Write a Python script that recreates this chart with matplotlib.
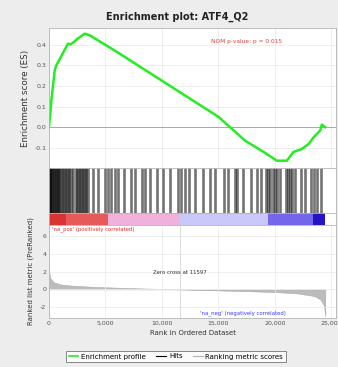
import numpy as np
import matplotlib
matplotlib.use("Agg")
from matplotlib import pyplot as plt

# Running enrichment score (rank, ES)
esRank = [0, 210, 505, 655, 1100, 1680, 1900, 2130, 2570, 3160, 3610,
          6000, 9000, 12000, 15000, 17350, 19000, 20160, 21050, 21630,
          22380, 23000, 23400, 24000, 24150, 24300, 24440]
esVal = [0.0, 0.13, 0.275, 0.30, 0.345, 0.405, 0.40, 0.41, 0.43, 0.453, 0.445,
         0.365, 0.26, 0.155, 0.05, -0.065, -0.12, -0.162, -0.162, -0.12,
         -0.105, -0.08, -0.05, -0.016, 0.013, 0.005, 0.0]

# Positions of gene set members in the ranked list
hits = [20, 60, 110, 180, 260, 350, 430, 520, 610, 700, 800, 900, 1010, 1120,
        1250, 1380, 1500, 1650, 1800, 1950, 2150, 2380, 2500, 2620, 2750, 2880,
        3000, 3150, 3300, 3480, 3920, 4360, 5000, 5250, 5500, 5800, 6100, 6650,
        7300, 7600, 8200, 8500, 8900, 9550, 10100, 10700, 11450, 11700, 12000,
        12350, 12900, 13650, 14250, 14700, 15500, 15850, 16450, 16650, 17200,
        17900, 18400, 18800, 19200, 19400, 19600, 19800, 20000, 20200, 20400,
        20950, 21150, 21350, 21550, 21750, 22300, 22700, 23200, 23450, 23750,
        24100]

# Ranked list metric (rank, score)
metRank = [0, 50, 150, 400, 1000, 2000, 4000, 7000, 10000, 11597, 14000,
           17000, 20000, 22000, 23500, 24000, 24300, 24400, 24450]
metVal = [2.3, 1.6, 1.2, 0.8, 0.55, 0.42, 0.28, 0.15, 0.05, 0.0, -0.08,
          -0.18, -0.3, -0.45, -0.75, -1.1, -1.7, -2.4, -3.0]

# Colour band under the hits (start, end, colour)
bandStart = [0, 1500, 5200, 11600, 19400, 23400]
bandEnd = [1500, 5200, 11600, 19400, 23400, 24450]
bandColor = ["#d83434", "#e65a5a", "#f0b2dc", "#c8c8fc", "#7466ea", "#2414c4"]

zeroCross = 11597
xMax = 25400

W, H = 338, 367
fig = plt.figure(figsize=(W/100, H/100), dpi=100)
fig.patch.set_facecolor("#ededed")

def box(x0, y0, x1, y1):
    # pixel box (top-left origin) to figure fractions
    return [x0/W, 1-y1/H, (x1-x0)/W, (y1-y0)/H]

def fpos(x, y):
    # pixel point (top-left origin) to figure fractions
    return x/W, 1-y/H

axES = fig.add_axes(box(49, 28.3, 336, 167.7))
axHit = fig.add_axes(box(49, 167.7, 336, 213.3))
axBar = fig.add_axes(box(49, 213.3, 336, 225))
axMet = fig.add_axes(box(49, 225, 336, 318))

spineCol = "#b4b4b4"
for ax in (axES, axHit, axBar, axMet):
    ax.set_xlim(0, xMax)
    for s in ax.spines.values():
        s.set_color(spineCol)
        s.set_linewidth(0.6)
    ax.tick_params(colors="#555555", labelsize=4.5, length=0, pad=2)

xt = [0, 5000, 10000, 15000, 20000, 25000]

# Top: enrichment profile
axES.set_ylim(-0.196, 0.479)
axES.set_xticks(xt)
axES.set_xticklabels([])
axES.set_yticks([-0.1, 0.0, 0.1, 0.2, 0.3, 0.4])
axES.set_yticklabels(["-0.1", "0.0", "0.1", "0.2", "0.3", "0.4"])
axES.grid(True, color="#ececec", linewidth=0.6)
axES.axhline(0, color="#a8a8a8", linewidth=0.7)
axES.plot(esRank, esVal, color="#22ee22", linewidth=1.8)
axES.set_ylabel("Enrichment score (ES)", fontsize=6.3, color="#333333", labelpad=3)
fig.text(*fpos(247, 41), "NOM p-value: p = 0.015", fontsize=4.2,
         color="#e04040", ha="center", va="center")

# Hits
axHit.set_ylim(0, 1)
axHit.set_xticks([])
axHit.set_yticks([])
axHit.vlines(hits, 0, 1, color="black", linewidth=1.9, alpha=0.55)

# Colour band
axBar.set_ylim(0, 1)
axBar.set_xticks([])
axBar.set_yticks([])
for s, e, c in zip(bandStart, bandEnd, bandColor):
    axBar.axvspan(s, e, color=c, linewidth=0)

# Bottom: ranked list metric
axMet.set_ylim(-3.2, 7.2)
axMet.set_xticks(xt)
axMet.set_xticklabels(["0", "5,000", "10,000", "15,000", "20,000", "25,000"])
axMet.set_yticks([-2, 0, 2, 4, 6])
axMet.set_yticklabels(["-2", "0", "2", "4", "6"])
axMet.grid(True, color="#ececec", linewidth=0.6)
axMet.axvline(zeroCross, color="#dcdcdc", linewidth=0.7)
axMet.fill_between(metRank, metVal, 0, color="#bcbcbc", linewidth=0.4,
                   edgecolor="#aaaaaa")
axMet.set_ylabel("Ranked list metric (PreRanked)", fontsize=5, color="#333333",
                 labelpad=4)
axMet.set_xlabel("Rank in Ordered Dataset", fontsize=5, color="#333333", labelpad=3)

fig.text(*fpos(180, 272), "Zero cross at 11597", fontsize=3.9,
         color="#333333", ha="center", va="center")
fig.text(*fpos(52, 229), "'na_pos' (positively correlated)",
         fontsize=3.9, color="#e03030", ha="left", va="center")
fig.text(*fpos(243, 313), "'na_neg' (negatively correlated)",
         fontsize=3.9, color="#3a3aff", ha="center", va="center")

fig.text(*fpos(177, 17), "Enrichment plot: ATF4_Q2", fontsize=7, fontweight="bold",
         ha="center", va="center", color="#222222")

# Legend
hES, = axES.plot([], [], color="#22ee22", linewidth=1.2, label="Enrichment profile")
hHit, = axES.plot([], [], color="black", linewidth=0.8, label="Hits")
hMet, = axES.plot([], [], color="#b0b0b0", linewidth=0.8, label="Ranking metric scores")
leg = fig.legend(handles=[hES, hHit, hMet], loc="center", ncol=3,
                 bbox_to_anchor=fpos(176, 356.5), fontsize=5, frameon=True,
                 fancybox=False, handlelength=1.4, handletextpad=0.4,
                 columnspacing=1.5, borderpad=0.35)
leg.get_frame().set_edgecolor("#555555")
leg.get_frame().set_linewidth(0.6)
leg.get_frame().set_facecolor("white")

fig.savefig("out.png", dpi=100, facecolor=fig.get_facecolor())
